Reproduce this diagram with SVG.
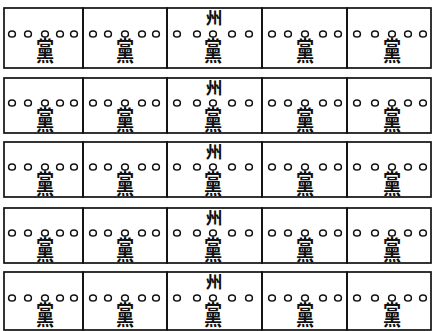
<svg xmlns="http://www.w3.org/2000/svg" width="433" height="331" viewBox="0 0 433 331">
<style>
.bg{fill:#ffffff}
.cell{fill:none;stroke:#111;stroke-width:1.7}
.o{fill:none;stroke:#111;stroke-width:1.5}
.stem{stroke:#111;stroke-width:1.3}
.d{font-family:"Noto Sans CJK TC","Noto Sans CJK SC",sans-serif;font-size:26px;font-weight:bold;fill:#111;text-anchor:middle;opacity:0.999}
.z{font-family:"Noto Sans CJK TC","Noto Sans CJK SC",sans-serif;font-size:17px;font-weight:bold;fill:#111;text-anchor:middle;opacity:0.999}
</style>
<rect class="bg" x="0" y="0" width="433" height="331"/>
<g id="connectors"></g>
<g id="cells">
<g id="r1">
<g id="c1-1"><rect class="cell" x="4" y="8" width="79" height="60"/><ellipse class="o" cx="12" cy="34" rx="3.4" ry="3.1"/><ellipse class="o" cx="28" cy="34" rx="3.4" ry="3.1"/><ellipse class="o" cx="45" cy="34" rx="3.4" ry="3.1"/><ellipse class="o" cx="60" cy="34" rx="3.4" ry="3.1"/><ellipse class="o" cx="74" cy="34" rx="3.4" ry="3.1"/><line class="stem" x1="45" y1="37" x2="45" y2="40"/><text class="d" transform="translate(45,61) scale(0.7,1)">黨</text></g>
<g id="c1-2"><rect class="cell" x="83" y="8" width="84" height="60"/><ellipse class="o" cx="93" cy="34" rx="3.4" ry="3.1"/><ellipse class="o" cx="108" cy="34" rx="3.4" ry="3.1"/><ellipse class="o" cx="125" cy="34" rx="3.4" ry="3.1"/><ellipse class="o" cx="142" cy="34" rx="3.4" ry="3.1"/><ellipse class="o" cx="156" cy="34" rx="3.4" ry="3.1"/><line class="stem" x1="125" y1="37" x2="125" y2="40"/><text class="d" transform="translate(125,61) scale(0.7,1)">黨</text></g>
<g id="c1-3"><rect class="cell" x="167" y="8" width="95" height="60"/><text class="z" x="214" y="24">州</text><ellipse class="o" cx="177" cy="34" rx="3.4" ry="3.1"/><ellipse class="o" cx="197" cy="34" rx="3.4" ry="3.1"/><ellipse class="o" cx="213" cy="34" rx="3.4" ry="3.1"/><ellipse class="o" cx="232" cy="34" rx="3.4" ry="3.1"/><ellipse class="o" cx="249" cy="34" rx="3.4" ry="3.1"/><line class="stem" x1="213" y1="37" x2="213" y2="40"/><text class="d" transform="translate(213,61) scale(0.7,1)">黨</text></g>
<g id="c1-4"><rect class="cell" x="262" y="8" width="85" height="60"/><ellipse class="o" cx="272" cy="34" rx="3.4" ry="3.1"/><ellipse class="o" cx="288" cy="34" rx="3.4" ry="3.1"/><ellipse class="o" cx="305" cy="34" rx="3.4" ry="3.1"/><ellipse class="o" cx="323" cy="34" rx="3.4" ry="3.1"/><ellipse class="o" cx="338" cy="34" rx="3.4" ry="3.1"/><line class="stem" x1="305" y1="37" x2="305" y2="40"/><text class="d" transform="translate(305,61) scale(0.7,1)">黨</text></g>
<g id="c1-5"><rect class="cell" x="347" y="8" width="84" height="60"/><ellipse class="o" cx="357" cy="34" rx="3.4" ry="3.1"/><ellipse class="o" cx="375" cy="34" rx="3.4" ry="3.1"/><ellipse class="o" cx="392" cy="34" rx="3.4" ry="3.1"/><ellipse class="o" cx="408" cy="34" rx="3.4" ry="3.1"/><ellipse class="o" cx="423" cy="34" rx="3.4" ry="3.1"/><line class="stem" x1="392" y1="37" x2="392" y2="40"/><text class="d" transform="translate(392,61) scale(0.7,1)">黨</text></g>
</g>
<g id="r2">
<g id="c2-1"><rect class="cell" x="4" y="78" width="79" height="55"/><ellipse class="o" cx="12" cy="103" rx="3.4" ry="3.1"/><ellipse class="o" cx="28" cy="103" rx="3.4" ry="3.1"/><ellipse class="o" cx="45" cy="103" rx="3.4" ry="3.1"/><ellipse class="o" cx="60" cy="103" rx="3.4" ry="3.1"/><ellipse class="o" cx="74" cy="103" rx="3.4" ry="3.1"/><line class="stem" x1="45" y1="106" x2="45" y2="109"/><text class="d" transform="translate(45,130) scale(0.7,1)">黨</text></g>
<g id="c2-2"><rect class="cell" x="83" y="78" width="84" height="55"/><ellipse class="o" cx="93" cy="103" rx="3.4" ry="3.1"/><ellipse class="o" cx="108" cy="103" rx="3.4" ry="3.1"/><ellipse class="o" cx="125" cy="103" rx="3.4" ry="3.1"/><ellipse class="o" cx="142" cy="103" rx="3.4" ry="3.1"/><ellipse class="o" cx="156" cy="103" rx="3.4" ry="3.1"/><line class="stem" x1="125" y1="106" x2="125" y2="109"/><text class="d" transform="translate(125,130) scale(0.7,1)">黨</text></g>
<g id="c2-3"><rect class="cell" x="167" y="78" width="95" height="55"/><text class="z" x="214" y="94">州</text><ellipse class="o" cx="177" cy="103" rx="3.4" ry="3.1"/><ellipse class="o" cx="197" cy="103" rx="3.4" ry="3.1"/><ellipse class="o" cx="213" cy="103" rx="3.4" ry="3.1"/><ellipse class="o" cx="232" cy="103" rx="3.4" ry="3.1"/><ellipse class="o" cx="249" cy="103" rx="3.4" ry="3.1"/><line class="stem" x1="213" y1="106" x2="213" y2="109"/><text class="d" transform="translate(213,130) scale(0.7,1)">黨</text></g>
<g id="c2-4"><rect class="cell" x="262" y="78" width="85" height="55"/><ellipse class="o" cx="272" cy="103" rx="3.4" ry="3.1"/><ellipse class="o" cx="288" cy="103" rx="3.4" ry="3.1"/><ellipse class="o" cx="305" cy="103" rx="3.4" ry="3.1"/><ellipse class="o" cx="323" cy="103" rx="3.4" ry="3.1"/><ellipse class="o" cx="338" cy="103" rx="3.4" ry="3.1"/><line class="stem" x1="305" y1="106" x2="305" y2="109"/><text class="d" transform="translate(305,130) scale(0.7,1)">黨</text></g>
<g id="c2-5"><rect class="cell" x="347" y="78" width="84" height="55"/><ellipse class="o" cx="357" cy="103" rx="3.4" ry="3.1"/><ellipse class="o" cx="375" cy="103" rx="3.4" ry="3.1"/><ellipse class="o" cx="392" cy="103" rx="3.4" ry="3.1"/><ellipse class="o" cx="408" cy="103" rx="3.4" ry="3.1"/><ellipse class="o" cx="423" cy="103" rx="3.4" ry="3.1"/><line class="stem" x1="392" y1="106" x2="392" y2="109"/><text class="d" transform="translate(392,130) scale(0.7,1)">黨</text></g>
</g>
<g id="r3">
<g id="c3-1"><rect class="cell" x="4" y="142" width="79" height="55"/><ellipse class="o" cx="12" cy="167" rx="3.4" ry="3.1"/><ellipse class="o" cx="28" cy="167" rx="3.4" ry="3.1"/><ellipse class="o" cx="45" cy="167" rx="3.4" ry="3.1"/><ellipse class="o" cx="60" cy="167" rx="3.4" ry="3.1"/><ellipse class="o" cx="74" cy="167" rx="3.4" ry="3.1"/><line class="stem" x1="45" y1="170" x2="45" y2="173"/><text class="d" transform="translate(45,194) scale(0.7,1)">黨</text></g>
<g id="c3-2"><rect class="cell" x="83" y="142" width="84" height="55"/><ellipse class="o" cx="93" cy="167" rx="3.4" ry="3.1"/><ellipse class="o" cx="108" cy="167" rx="3.4" ry="3.1"/><ellipse class="o" cx="125" cy="167" rx="3.4" ry="3.1"/><ellipse class="o" cx="142" cy="167" rx="3.4" ry="3.1"/><ellipse class="o" cx="156" cy="167" rx="3.4" ry="3.1"/><line class="stem" x1="125" y1="170" x2="125" y2="173"/><text class="d" transform="translate(125,194) scale(0.7,1)">黨</text></g>
<g id="c3-3"><rect class="cell" x="167" y="142" width="95" height="55"/><text class="z" x="214" y="158">州</text><ellipse class="o" cx="177" cy="167" rx="3.4" ry="3.1"/><ellipse class="o" cx="197" cy="167" rx="3.4" ry="3.1"/><ellipse class="o" cx="213" cy="167" rx="3.4" ry="3.1"/><ellipse class="o" cx="232" cy="167" rx="3.4" ry="3.1"/><ellipse class="o" cx="249" cy="167" rx="3.4" ry="3.1"/><line class="stem" x1="213" y1="170" x2="213" y2="173"/><text class="d" transform="translate(213,194) scale(0.7,1)">黨</text></g>
<g id="c3-4"><rect class="cell" x="262" y="142" width="85" height="55"/><ellipse class="o" cx="272" cy="167" rx="3.4" ry="3.1"/><ellipse class="o" cx="288" cy="167" rx="3.4" ry="3.1"/><ellipse class="o" cx="305" cy="167" rx="3.4" ry="3.1"/><ellipse class="o" cx="323" cy="167" rx="3.4" ry="3.1"/><ellipse class="o" cx="338" cy="167" rx="3.4" ry="3.1"/><line class="stem" x1="305" y1="170" x2="305" y2="173"/><text class="d" transform="translate(305,194) scale(0.7,1)">黨</text></g>
<g id="c3-5"><rect class="cell" x="347" y="142" width="84" height="55"/><ellipse class="o" cx="357" cy="167" rx="3.4" ry="3.1"/><ellipse class="o" cx="375" cy="167" rx="3.4" ry="3.1"/><ellipse class="o" cx="392" cy="167" rx="3.4" ry="3.1"/><ellipse class="o" cx="408" cy="167" rx="3.4" ry="3.1"/><ellipse class="o" cx="423" cy="167" rx="3.4" ry="3.1"/><line class="stem" x1="392" y1="170" x2="392" y2="173"/><text class="d" transform="translate(392,194) scale(0.7,1)">黨</text></g>
</g>
<g id="r4">
<g id="c4-1"><rect class="cell" x="4" y="208" width="79" height="55"/><ellipse class="o" cx="12" cy="233" rx="3.4" ry="3.1"/><ellipse class="o" cx="28" cy="233" rx="3.4" ry="3.1"/><ellipse class="o" cx="45" cy="233" rx="3.4" ry="3.1"/><ellipse class="o" cx="60" cy="233" rx="3.4" ry="3.1"/><ellipse class="o" cx="74" cy="233" rx="3.4" ry="3.1"/><line class="stem" x1="45" y1="236" x2="45" y2="239"/><text class="d" transform="translate(45,260) scale(0.7,1)">黨</text></g>
<g id="c4-2"><rect class="cell" x="83" y="208" width="84" height="55"/><ellipse class="o" cx="93" cy="233" rx="3.4" ry="3.1"/><ellipse class="o" cx="108" cy="233" rx="3.4" ry="3.1"/><ellipse class="o" cx="125" cy="233" rx="3.4" ry="3.1"/><ellipse class="o" cx="142" cy="233" rx="3.4" ry="3.1"/><ellipse class="o" cx="156" cy="233" rx="3.4" ry="3.1"/><line class="stem" x1="125" y1="236" x2="125" y2="239"/><text class="d" transform="translate(125,260) scale(0.7,1)">黨</text></g>
<g id="c4-3"><rect class="cell" x="167" y="208" width="95" height="55"/><text class="z" x="214" y="224">州</text><ellipse class="o" cx="177" cy="233" rx="3.4" ry="3.1"/><ellipse class="o" cx="197" cy="233" rx="3.4" ry="3.1"/><ellipse class="o" cx="213" cy="233" rx="3.4" ry="3.1"/><ellipse class="o" cx="232" cy="233" rx="3.4" ry="3.1"/><ellipse class="o" cx="249" cy="233" rx="3.4" ry="3.1"/><line class="stem" x1="213" y1="236" x2="213" y2="239"/><text class="d" transform="translate(213,260) scale(0.7,1)">黨</text></g>
<g id="c4-4"><rect class="cell" x="262" y="208" width="85" height="55"/><ellipse class="o" cx="272" cy="233" rx="3.4" ry="3.1"/><ellipse class="o" cx="288" cy="233" rx="3.4" ry="3.1"/><ellipse class="o" cx="305" cy="233" rx="3.4" ry="3.1"/><ellipse class="o" cx="323" cy="233" rx="3.4" ry="3.1"/><ellipse class="o" cx="338" cy="233" rx="3.4" ry="3.1"/><line class="stem" x1="305" y1="236" x2="305" y2="239"/><text class="d" transform="translate(305,260) scale(0.7,1)">黨</text></g>
<g id="c4-5"><rect class="cell" x="347" y="208" width="84" height="55"/><ellipse class="o" cx="357" cy="233" rx="3.4" ry="3.1"/><ellipse class="o" cx="375" cy="233" rx="3.4" ry="3.1"/><ellipse class="o" cx="392" cy="233" rx="3.4" ry="3.1"/><ellipse class="o" cx="408" cy="233" rx="3.4" ry="3.1"/><ellipse class="o" cx="423" cy="233" rx="3.4" ry="3.1"/><line class="stem" x1="392" y1="236" x2="392" y2="239"/><text class="d" transform="translate(392,260) scale(0.7,1)">黨</text></g>
</g>
<g id="r5">
<g id="c5-1"><rect class="cell" x="4" y="272" width="79" height="58"/><ellipse class="o" cx="12" cy="298" rx="3.4" ry="3.1"/><ellipse class="o" cx="28" cy="298" rx="3.4" ry="3.1"/><ellipse class="o" cx="45" cy="298" rx="3.4" ry="3.1"/><ellipse class="o" cx="60" cy="298" rx="3.4" ry="3.1"/><ellipse class="o" cx="74" cy="298" rx="3.4" ry="3.1"/><line class="stem" x1="45" y1="301" x2="45" y2="304"/><text class="d" transform="translate(45,325) scale(0.7,1)">黨</text></g>
<g id="c5-2"><rect class="cell" x="83" y="272" width="84" height="58"/><ellipse class="o" cx="93" cy="298" rx="3.4" ry="3.1"/><ellipse class="o" cx="108" cy="298" rx="3.4" ry="3.1"/><ellipse class="o" cx="125" cy="298" rx="3.4" ry="3.1"/><ellipse class="o" cx="142" cy="298" rx="3.4" ry="3.1"/><ellipse class="o" cx="156" cy="298" rx="3.4" ry="3.1"/><line class="stem" x1="125" y1="301" x2="125" y2="304"/><text class="d" transform="translate(125,325) scale(0.7,1)">黨</text></g>
<g id="c5-3"><rect class="cell" x="167" y="272" width="95" height="58"/><text class="z" x="214" y="288">州</text><ellipse class="o" cx="177" cy="298" rx="3.4" ry="3.1"/><ellipse class="o" cx="197" cy="298" rx="3.4" ry="3.1"/><ellipse class="o" cx="213" cy="298" rx="3.4" ry="3.1"/><ellipse class="o" cx="232" cy="298" rx="3.4" ry="3.1"/><ellipse class="o" cx="249" cy="298" rx="3.4" ry="3.1"/><line class="stem" x1="213" y1="301" x2="213" y2="304"/><text class="d" transform="translate(213,325) scale(0.7,1)">黨</text></g>
<g id="c5-4"><rect class="cell" x="262" y="272" width="85" height="58"/><ellipse class="o" cx="272" cy="298" rx="3.4" ry="3.1"/><ellipse class="o" cx="288" cy="298" rx="3.4" ry="3.1"/><ellipse class="o" cx="305" cy="298" rx="3.4" ry="3.1"/><ellipse class="o" cx="323" cy="298" rx="3.4" ry="3.1"/><ellipse class="o" cx="338" cy="298" rx="3.4" ry="3.1"/><line class="stem" x1="305" y1="301" x2="305" y2="304"/><text class="d" transform="translate(305,325) scale(0.7,1)">黨</text></g>
<g id="c5-5"><rect class="cell" x="347" y="272" width="84" height="58"/><ellipse class="o" cx="357" cy="298" rx="3.4" ry="3.1"/><ellipse class="o" cx="375" cy="298" rx="3.4" ry="3.1"/><ellipse class="o" cx="392" cy="298" rx="3.4" ry="3.1"/><ellipse class="o" cx="408" cy="298" rx="3.4" ry="3.1"/><ellipse class="o" cx="423" cy="298" rx="3.4" ry="3.1"/><line class="stem" x1="392" y1="301" x2="392" y2="304"/><text class="d" transform="translate(392,325) scale(0.7,1)">黨</text></g>
</g>
</g>
</svg>
